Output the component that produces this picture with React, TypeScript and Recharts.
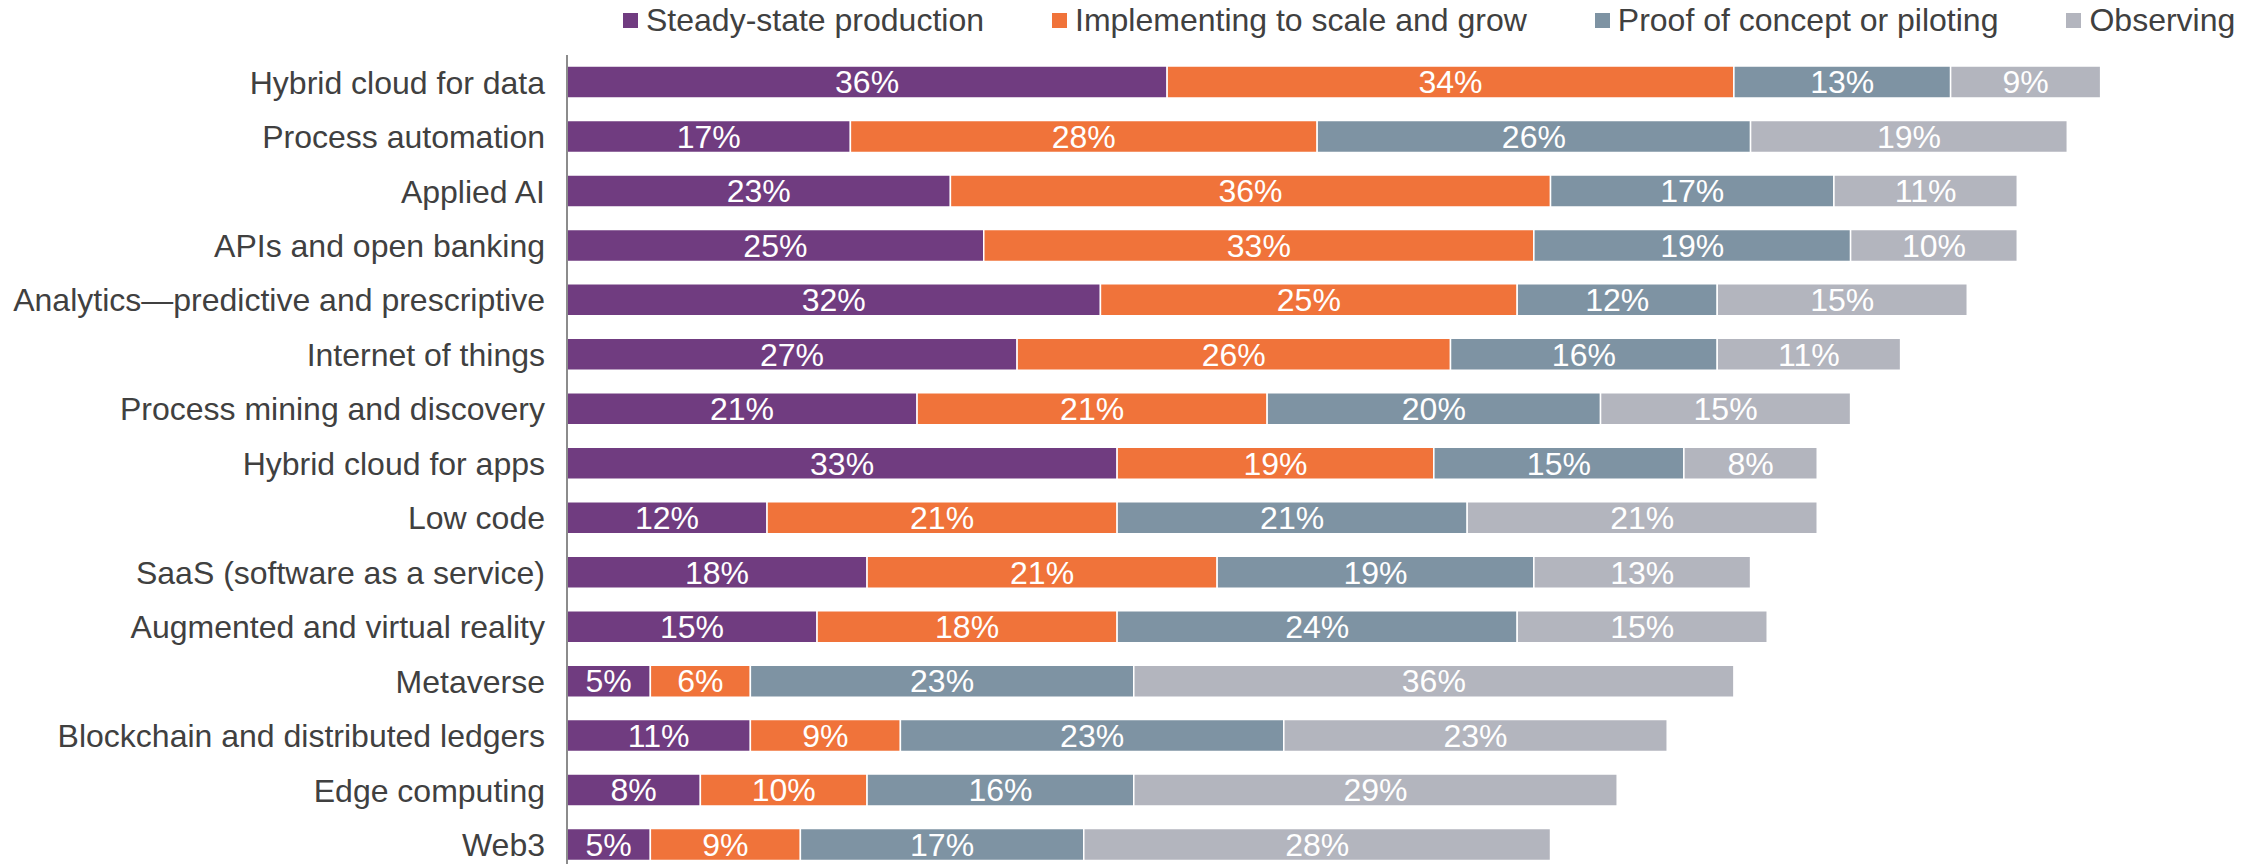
import React from "react";
import { BarChart, Bar, XAxis, YAxis, Legend, LabelList } from "recharts";

const categories = [
  "Hybrid cloud for data",
  "Process automation",
  "Applied AI",
  "APIs and open banking",
  "Analytics—predictive and prescriptive",
  "Internet of things",
  "Process mining and discovery",
  "Hybrid cloud for apps",
  "Low code",
  "SaaS (software as a service)",
  "Augmented and virtual reality",
  "Metaverse",
  "Blockchain and distributed ledgers",
  "Edge computing",
  "Web3",
];

const steadyState = [36, 17, 23, 25, 32, 27, 21, 33, 12, 18, 15, 5, 11, 8, 5];
const implementing = [34, 28, 36, 33, 25, 26, 21, 19, 21, 21, 18, 6, 9, 10, 9];
const proofOfConcept = [13, 26, 17, 19, 12, 16, 20, 15, 21, 19, 24, 23, 23, 16, 17];
const observing = [9, 19, 11, 10, 15, 11, 15, 8, 21, 13, 15, 36, 23, 29, 28];

const series = [
  { key: "steady", name: "Steady-state production", color: "#703c80" },
  { key: "implementing", name: "Implementing to scale and grow", color: "#f0733a" },
  { key: "proof", name: "Proof of concept or piloting", color: "#7e93a3" },
  { key: "observing", name: "Observing", color: "#b3b5be" },
];

const data = categories.map((name, i) => ({
  name,
  steady: steadyState[i],
  implementing: implementing[i],
  proof: proofOfConcept[i],
  observing: observing[i],
}));

const FONT = "'Liberation Sans', Arial, Helvetica, sans-serif";
const TEXT = "#404040";

function LegendContent() {
  return (
    <div
      style={{
        display: "flex",
        alignItems: "center",
        height: 40,
        marginLeft: 623,
        fontFamily: FONT,
        fontSize: 32,
        color: TEXT,
        whiteSpace: "nowrap",
      }}
    >
      {series.map((s, i) => (
        <div
          key={s.key}
          style={{ display: "flex", alignItems: "center", marginLeft: i === 0 ? 0 : 68 }}
        >
          <span
            style={{ width: 15, height: 15, background: s.color, marginRight: 8, display: "inline-block" }}
          />
          <span>{s.name}</span>
        </div>
      ))}
    </div>
  );
}

export default function App() {
  return (
    <div
      style={{
        position: "absolute",
        left: 0,
        top: 0,
        width: 2255,
        height: 864,
        overflow: "hidden",
        background: "#fff",
      }}
    >
      {/* the legend's 40px are added on top of margin.top, so the plot starts at ~55 */}
      <BarChart
        width={2255}
        height={880}
        data={data}
        layout="vertical"
        margin={{ top: 15, right: 21, bottom: 8, left: 0 }}
        style={{ fontFamily: FONT }}
      >
        <XAxis type="number" domain={[0, 100]} hide />
        <YAxis
          type="category"
          dataKey="name"
          width={567}
          tickLine={false}
          tickSize={0}
          tickMargin={22}
          axisLine={{ stroke: "#8c8c8c", strokeWidth: 2 }}
          tick={{ fill: TEXT, fontSize: 32 }}
          interval={0}
        />
        <Legend
          verticalAlign="top"
          content={<LegendContent />}
          wrapperStyle={{ left: 0, top: 0, width: 2255 }}
        />
        {series.map((s) => (
          <Bar
            key={s.key}
            dataKey={s.key}
            name={s.name}
            stackId="a"
            fill={s.color}
            stroke="#fff"
            strokeWidth={1.5}
            barSize={32}
            isAnimationActive={false}
          >
            <LabelList
              dataKey={s.key}
              position="center"
              fill="#fff"
              fontSize={32}
              formatter={(v: number) => `${v}%`}
            />
          </Bar>
        ))}
      </BarChart>
    </div>
  );
}
